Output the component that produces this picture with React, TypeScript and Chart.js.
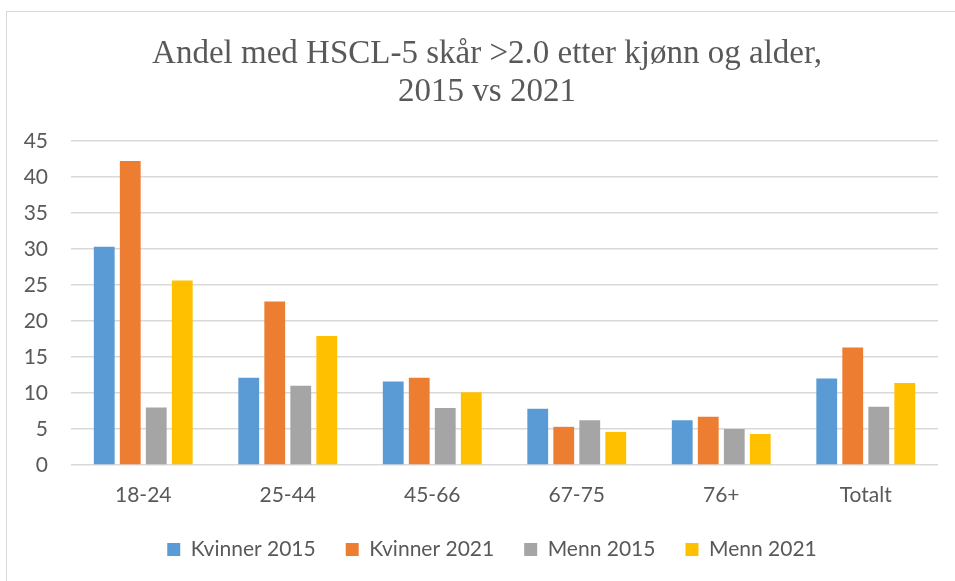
import React, { useEffect, useRef } from "react";
import { Chart, registerables } from "chart.js";

Chart.register(...registerables);

const categories = ["18-24", "25-44", "45-66", "67-75", "76+", "Totalt"];
const kvinner2015 = [30.3, 12.1, 11.6, 7.8, 6.2, 12.0];
const kvinner2021 = [42.2, 22.7, 12.1, 5.3, 6.7, 16.3];
const menn2015 = [8.0, 11.0, 7.9, 6.2, 5.0, 8.1];
const menn2021 = [25.6, 17.9, 10.1, 4.6, 4.3, 11.4];
const seriesNames = ["Kvinner 2015", "Kvinner 2021", "Menn 2015", "Menn 2021"];
const seriesColors = ["#5B9BD5", "#ED7D31", "#A5A5A5", "#FFC000"];
const titleLines = ["Andel med HSCL-5 skår >2.0 etter kjønn og alder,", "2015 vs 2021"];
const yMin = 0;
const yMax = 45;
const yStep = 5;

const shiftBlocks = {
  id: "shiftBlocks",
  afterLayout(chart: any) {
    const t = chart.titleBlock;
    if (t) {
      t.left += 18;
      t.right += 18;
    }
    const l = chart.legend;
    if (l) {
      l.left += 23;
      l.right += 23;
    }
  },
};

export default function App() {
  const canvasRef = useRef<HTMLCanvasElement | null>(null);

  useEffect(() => {
    const canvas = canvasRef.current;
    if (!canvas) return;
    const values = [kvinner2015, kvinner2021, menn2015, menn2021];
    const textFont = { family: "Lato, sans-serif", size: 21 };
    const chart = new Chart(canvas, {
      type: "bar",
      data: {
        labels: categories,
        datasets: values.map((v, i) => ({
          label: seriesNames[i],
          data: v,
          backgroundColor: seriesColors[i],
          borderWidth: 0,
          categoryPercentage: 0.72,
          barPercentage: 0.8,
        })),
      },
      plugins: [shiftBlocks],
      options: {
        animation: false,
        responsive: false,
        maintainAspectRatio: false,
        layout: { padding: { left: 0, right: 17, top: 0, bottom: 11 } },
        plugins: {
          title: {
            display: true,
            text: titleLines,
            color: "#595959",
            font: { family: "'Liberation Serif', serif", size: 33, weight: "normal", lineHeight: 1.15 },
            padding: { top: 35, bottom: 30 },
          },
          legend: {
            display: true,
            position: "bottom",
            labels: {
              color: "#595959",
              font: textFont,
              boxWidth: 13,
              boxHeight: 13,
              padding: 30,
            },
          },
          tooltip: { enabled: false },
        },
        scales: {
          x: {
            grid: { display: false, drawTicks: false },
            border: { display: false },
            ticks: {
              color: "#595959",
              font: textFont,
              padding: 18,
            },
            afterFit: (s: any) => {
              s.height = 44;
            },
          },
          y: {
            min: yMin,
            max: yMax,
            grid: { color: "#d9d9d9", lineWidth: 1.5, drawTicks: false },
            border: { display: false },
            ticks: {
              stepSize: yStep,
              color: "#595959",
              font: textFont,
              padding: 23,
            },
            afterFit: (s: any) => {
              s.width = 71;
            },
          },
        },
      },
    });
    return () => chart.destroy();
  }, []);

  return (
    <div style={{ position: "fixed", left: 0, top: 0, width: 955, height: 581, background: "#fff", overflow: "hidden" }}>
      <div
        style={{
          position: "absolute",
          left: 6,
          top: 11,
          width: 1000,
          height: 1000,
          border: "1px solid #d9d9d9",
          boxSizing: "border-box",
        }}
      />
      <canvas ref={canvasRef} width={955} height={581} style={{ position: "absolute", left: 0, top: 0 }} />
    </div>
  );
}
